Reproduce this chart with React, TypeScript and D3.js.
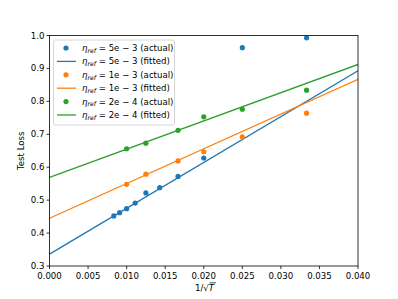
import React from "react";
import * as d3 from "d3";

// x = 1/sqrt(T) for the training lengths that were run
const xBlue = [1 / 120, 1 / 110, 1 / 100, 1 / 90, 1 / 80, 1 / 70, 1 / 60, 1 / 50, 1 / 40, 1 / 30];
const yBlue = [0.452, 0.462, 0.474, 0.491, 0.522, 0.538, 0.572, 0.628, 0.963, 0.993];

const xOrange = [1 / 100, 1 / 80, 1 / 60, 1 / 50, 1 / 40, 1 / 30];
const yOrange = [0.548, 0.579, 0.619, 0.647, 0.692, 0.764];

const xGreen = [1 / 100, 1 / 80, 1 / 60, 1 / 50, 1 / 40, 1 / 30];
const yGreen = [0.656, 0.673, 0.712, 0.753, 0.776, 0.834];

// fitted lines: value at x = 0 and at x = 0.04
const fitStart = [0.336, 0.445, 0.569];
const fitEnd = [0.893, 0.867, 0.912];

const etaLabels = ["5e \u2212 3", "1e \u2212 3", "2e \u2212 4"];
const colors = ["#1f77b4", "#ff7f0e", "#2ca02c"];

const xTicks = [0, 0.005, 0.01, 0.015, 0.02, 0.025, 0.03, 0.035, 0.04];
const yTicks = [0.3, 0.4, 0.5, 0.6, 0.7, 0.8, 0.9, 1.0];

const W = 398;
const H = 299;
const m = { left: 49.5, right: 358, top: 35.5, bottom: 266 };
const font = "DejaVu Sans, sans-serif";

export default function App() {
  const x = d3.scaleLinear().domain([0, 0.04]).range([m.left, m.right]);
  const y = d3.scaleLinear().domain([0.3, 1.0]).range([m.bottom, m.top]);
  const line = d3
    .line<[number, number]>()
    .x((d) => x(d[0]))
    .y((d) => y(d[1]));

  const series = [
    { xs: xBlue, ys: yBlue },
    { xs: xOrange, ys: yOrange },
    { xs: xGreen, ys: yGreen },
  ];

  const legendRows: { kind: "dot" | "line"; i: number }[] = [];
  series.forEach((_, i) => {
    legendRows.push({ kind: "dot", i });
    legendRows.push({ kind: "line", i });
  });

  const fs = 8.6;

  return (
    <svg
      width={W}
      height={H}
      style={{ position: "absolute", left: 0, top: 0, background: "#fff" }}
      fontFamily={font}
    >
      <rect width={W} height={H} fill="#fff" />
      <defs>
        <clipPath id="plot">
          <rect x={m.left} y={m.top} width={m.right - m.left} height={m.bottom - m.top} />
        </clipPath>
      </defs>

      <g clipPath="url(#plot)">
        {series.map((s, i) => (
          <path
            key={"fit" + i}
            d={line([
              [0, fitStart[i]],
              [0.04, fitEnd[i]],
            ])!}
            fill="none"
            stroke={colors[i]}
            strokeWidth={1.3}
          />
        ))}
        {series.map((s, i) =>
          s.xs.map((xv, j) => (
            <circle key={`p${i}-${j}`} cx={x(xv)} cy={y(s.ys[j])} r={2.6} fill={colors[i]} />
          ))
        )}
      </g>

      {/* axes frame */}
      <rect
        x={m.left}
        y={m.top}
        width={m.right - m.left}
        height={m.bottom - m.top}
        fill="none"
        stroke="#000"
        strokeWidth={0.8}
      />

      {xTicks.map((t) => (
        <g key={"xt" + t}>
          <line x1={x(t)} x2={x(t)} y1={m.bottom} y2={m.bottom + 3} stroke="#000" strokeWidth={0.8} />
          <text x={x(t)} y={m.bottom + 13} fontSize={fs} textAnchor="middle">
            {d3.format(".3f")(t)}
          </text>
        </g>
      ))}
      {yTicks.map((t) => (
        <g key={"yt" + t}>
          <line x1={m.left - 3} x2={m.left} y1={y(t)} y2={y(t)} stroke="#000" strokeWidth={0.8} />
          <text x={m.left - 5} y={y(t) + 3} fontSize={fs} textAnchor="end">
            {d3.format(".1f")(t)}
          </text>
        </g>
      ))}

      {/* axis labels */}
      <text
        transform={`translate(24,${(m.top + m.bottom) / 2}) rotate(-90)`}
        fontSize={fs}
        textAnchor="middle"
      >
        Test Loss
      </text>
      <g>
        <text x={195} y={291} fontSize={fs}>
          1/√<tspan fontStyle="italic">T</tspan>
        </text>
        <line x1={209.5} x2={216} y1={282.8} y2={282.8} stroke="#000" strokeWidth={0.7} />
      </g>

      {/* legend */}
      <rect x={53.5} y={40} width={121} height={85} rx={2} fill="#fff" fillOpacity={0.8} stroke="#ccc" strokeWidth={0.8} />
      {legendRows.map((r, k) => {
        const cy = 48 + k * 13.4;
        return (
          <g key={"lg" + k}>
            {r.kind === "dot" ? (
              <circle cx={66} cy={cy} r={2.6} fill={colors[r.i]} />
            ) : (
              <line x1={57} x2={76} y1={cy} y2={cy} stroke={colors[r.i]} strokeWidth={1.3} />
            )}
            <text x={82} y={cy + 3} fontSize={fs}>
              <tspan fontStyle="italic">η</tspan>
              <tspan fontStyle="italic" fontSize={6.2} dy={1.8}>ref</tspan>
              <tspan dy={-1.8}>{" = " + etaLabels[r.i] + (r.kind === "dot" ? " (actual)" : " (fitted)")}</tspan>
            </text>
          </g>
        );
      })}
    </svg>
  );
}
